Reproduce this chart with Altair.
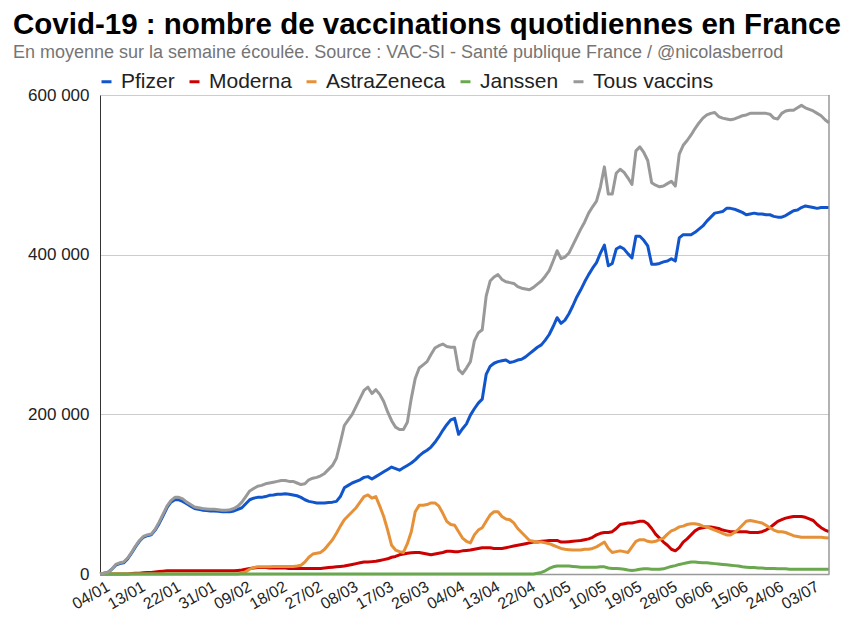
import altair as alt
import pandas as pd

# Daily values (thousands of doses, 7-day average), 2021-01-03 .. 2021-07-07
start_date = "2021-01-03"
end_date = "2021-07-07"
series_names = ["Pfizer", "Moderna", "AstraZeneca", "Janssen", "Tous vaccins"]
series_colors = ["#1155cc", "#cc0000", "#e69138", "#6aa84f", "#999999"]

pfizer = [
    0, 1, 2, 6, 11, 13, 14, 19, 26, 34,
    41, 46, 48, 49, 55, 63, 73, 83, 90, 93,
    93, 91, 88, 85, 82, 81, 80, 79.5, 79, 79,
    78.5, 78, 78, 78, 79, 81, 83, 88, 93, 95,
    96, 96, 97, 98.5, 99, 100, 100, 100.5, 100, 99,
    98, 96, 93, 91, 90, 89, 89, 89, 89.5, 90,
    91, 97, 108, 111, 114, 116, 118, 121, 122, 119,
    122, 125, 128, 131, 134, 132, 130, 133, 136, 139,
    143, 148, 152, 155, 159, 165, 172, 180, 187, 193,
    195, 175, 182, 188, 199, 207, 214, 219, 250, 260,
    264, 266, 267, 268, 265, 266, 268, 269, 272, 276,
    280, 284, 287, 293, 300, 310, 321, 314, 318, 326,
    336, 347, 356, 366, 375, 383, 390, 402, 412, 386,
    389, 407, 410, 407, 401, 396, 423, 423, 418, 411,
    388, 388, 389, 391, 392, 395, 392, 421, 425, 425,
    425, 428, 432, 436, 442, 447, 452, 453, 454, 458,
    458, 457, 455, 453, 450, 451, 452, 451, 451, 450,
    450, 448, 447, 447, 449, 452, 455, 456, 459, 461,
    460, 459, 458, 459, 459, 459,
]

moderna = [
    0, 0, 0, 0, 0, 0, 0, 0, 0.5, 1,
    1, 1.5, 2, 2, 2.5, 3, 3.5, 4, 4, 4,
    4, 4, 4, 4, 4, 4, 4, 4, 4, 4,
    4, 4, 4, 4, 4, 4.5, 5, 6, 7, 7.5,
    8, 8, 8, 7.5, 7.5, 7.5, 7.5, 7.5, 7, 7,
    7, 7, 7, 7, 7, 7, 7, 7.5, 8, 8.5,
    9, 9.5, 10, 11, 12, 13, 14, 15, 15, 15.5,
    16, 17, 18, 19, 21, 22, 24, 25, 26, 26.5,
    27, 27, 26, 25, 24, 25, 26, 27, 28.5, 28.5,
    28, 28, 29, 29.5, 30, 31, 32, 33, 33, 33,
    32, 32, 32, 33, 34, 35, 36, 37, 38, 39,
    40, 40, 41, 41.5, 42, 42, 42, 40, 40, 40.5,
    41, 41.5, 42, 43, 44, 46, 49, 51, 52, 52,
    53, 57, 62, 63, 64, 64, 65, 66, 66, 63,
    57, 50, 45, 40, 36, 31, 29, 33, 40, 44,
    49, 54, 57, 58, 59, 59, 58, 57, 55, 54,
    53, 53, 53, 53, 53, 52, 52, 52, 53, 55,
    58, 62, 66, 68, 70, 71, 72, 72, 72, 71,
    69, 67, 62, 58, 55, 53,
]

astrazeneca = [
    0, 0, 0, 0, 0, 0, 0, 0, 0, 0,
    0, 0, 0, 0, 0, 0, 0, 0, 0, 0,
    0, 0, 0, 0, 0, 0, 0, 0, 0, 0,
    0, 0, 0, 0, 0, 0, 1, 3, 6, 8,
    9, 9, 9, 9, 9.5, 9.5, 9.5, 9.5, 9.5, 9.5,
    10, 11, 15, 21, 25, 26, 27, 31, 37, 43,
    51, 60, 68, 73, 78, 83, 90, 97, 99, 95,
    97, 85, 72, 55, 36, 30, 28, 27, 38, 53,
    78, 86, 86, 87, 89, 89, 85, 76, 66, 62,
    61, 53, 45, 41, 39, 49, 55, 58, 66, 74,
    78, 78, 72, 69, 68, 64, 57, 52, 47, 42,
    41, 40, 40, 39, 38, 36, 34, 32, 31, 30.5,
    30, 30, 30, 31, 31, 32, 34, 37, 40, 32,
    27, 28, 29, 28, 27, 34, 41, 43, 43, 41,
    40, 41, 43, 45, 50, 54, 56, 59, 60, 62,
    63, 63, 62, 60, 59, 57, 55, 53, 51, 49,
    49, 52, 56, 61, 66, 67, 66, 65, 64, 61,
    58, 55, 53, 53, 52, 50, 48, 47, 46, 46,
    46, 46, 46, 46, 45.5, 45,
]

janssen = [0] * 111 + [
    1, 2, 4, 7, 9, 10, 10, 10, 10,
    9.5, 9, 8.5, 8.5, 8.5, 8.5, 8.5, 9, 9, 7.5,
    7, 7, 6.5, 6, 5, 4.5, 5, 6, 6.5, 6.5,
    6, 6, 6, 6.5, 8, 9.5, 10.5, 12, 13, 14,
    15, 15, 14.5, 14, 14, 13.5, 13, 12.5, 12, 11.5,
    11, 10.5, 10, 9, 8.5, 8, 8, 7.5, 7.5, 7,
    7, 7, 6.5, 6.5, 6.5, 6, 6, 6, 6, 6,
    6, 6, 6, 6, 6, 6,
]

tous = [
    0, 1, 2, 6, 12, 14, 15, 20, 27, 35,
    42, 47, 49, 50, 56, 65, 75, 85, 92, 96,
    96, 94, 90, 87, 84, 83, 82, 81.5, 81, 81,
    80.5, 80, 80, 80.5, 82, 85, 90, 97, 104, 107,
    110, 111, 113, 114, 115, 116, 117, 117, 116, 116,
    114, 112, 113, 118, 120, 121, 123, 126, 131, 136,
    145, 165, 186, 193, 200, 210, 220, 230, 234, 226,
    231, 225, 216, 203, 192, 184, 181, 181, 190, 220,
    245, 258, 262, 266, 275, 283, 286, 288, 285, 284,
    284, 256, 251, 258, 266, 292, 302, 306, 348, 367,
    372, 375, 369, 366, 365, 364, 360, 358, 357, 356,
    359, 363, 367, 373, 380, 392, 405, 395, 397, 402,
    412, 422, 432, 441, 452, 460, 467, 485, 510, 476,
    476, 502, 507, 503, 496, 488, 530, 535, 528, 518,
    490, 487, 485, 486, 489, 492, 486, 526, 537, 543,
    550, 558, 565, 571, 575, 577, 578, 573, 571, 570,
    569, 570, 572, 574, 575, 577, 577, 577, 577, 577,
    576, 571, 570, 577, 580, 581, 581, 584, 587, 584,
    582, 580, 577, 574, 569, 565,
]

y_ticks = [0, 200, 400, 600]
x_tick_start = "2021-01-04"
x_tick_count = 21

dates = pd.date_range(start_date, end_date, freq="D")
rows = []
for order, (name, vals) in enumerate(zip(series_names, [pfizer, moderna, astrazeneca, janssen, tous])):
    for d, v in zip(dates, vals):
        rows.append({"date": d.strftime("%Y-%m-%d"), "serie": name, "v": v, "o": order})
df = pd.DataFrame(rows)

tick_dates = [
    alt.DateTime(year=t.year, month=t.month, date=t.day, utc=True)
    for t in pd.date_range(x_tick_start, periods=x_tick_count, freq="9D")
]
d0 = pd.Timestamp(start_date)
d1 = pd.Timestamp(end_date)

lines = alt.Chart(df).mark_line(strokeWidth=3, strokeJoin="round").encode(
    x=alt.X(
        "date:T",
        scale=alt.Scale(
            type="utc",
            nice=False,
            domain=[
                alt.DateTime(year=d0.year, month=d0.month, date=d0.day, utc=True),
                alt.DateTime(year=d1.year, month=d1.month, date=d1.day, utc=True),
            ],
        ),
        axis=alt.Axis(
            title=None,
            values=tick_dates,
            format="%d/%m",
            labelAngle=330,
            labelAlign="right",
            labelBaseline="top",
            labelFontSize=16,
            labelFont="Liberation Sans",
            labelColor="#222222",
            labelPadding=4,
            ticks=False,
            grid=False,
            domainColor="#999999",
            domainWidth=1.5,
            labelOverlap=False,
        ),
    ),
    y=alt.Y(
        "v:Q",
        scale=alt.Scale(domain=[0, 600], nice=False),
        axis=alt.Axis(
            title=None,
            values=y_ticks,
            labelExpr="datum.value == 0 ? '0' : format(datum.value, 'd') + ' 000'",
            labelFontSize=17,
            labelFont="Liberation Sans",
            labelColor="#222222",
            labelPadding=11,
            ticks=False,
            gridColor="#cccccc",
            domainColor="#333333",
        ),
    ),
    color=alt.Color(
        "serie:N",
        scale=alt.Scale(domain=series_names, range=series_colors),
        legend=alt.Legend(
            orient="none",
            legendX=-4,
            legendY=-24,
            direction="horizontal",
            title=None,
            symbolType="stroke",
            symbolStrokeWidth=3,
            symbolSize=100,
            labelFontSize=21,
            labelFont="Liberation Sans",
            labelColor="#222222",
            labelOffset=4,
            columnPadding=8,
        ),
    ),
    order=alt.Order("o:Q"),
    detail="serie:N",
)

border = alt.Chart(pd.DataFrame({"a": [0]})).mark_rule(color="#999999", strokeWidth=1.5).encode(
    x=alt.value(729), y=alt.value(0), y2=alt.value(479)
)

chart = alt.layer(lines, border).properties(
    width=729,
    height=479,
    padding={"left": 92, "top": 87, "right": 16, "bottom": 43},
    autosize=alt.AutoSizeParams(type="none"),
    title=alt.TitleParams(
        text="Covid-19 : nombre de vaccinations quotidiennes en France",
        subtitle="En moyenne sur la semaine écoulée. Source : VAC-SI - Santé publique France / @nicolasberrod",
        anchor="start",
        frame="group",
        dx=-87,
        offset=8,
        font="Liberation Sans",
        fontSize=29.5,
        fontWeight="bold",
        color="#000000",
        subtitleFont="Liberation Sans",
        subtitleFontSize=18,
        subtitleColor="#757575",
        subtitlePadding=4,
    ),
).configure_view(stroke=None)

chart.save("out.html", embed_options={"renderer": "svg", "actions": False})
